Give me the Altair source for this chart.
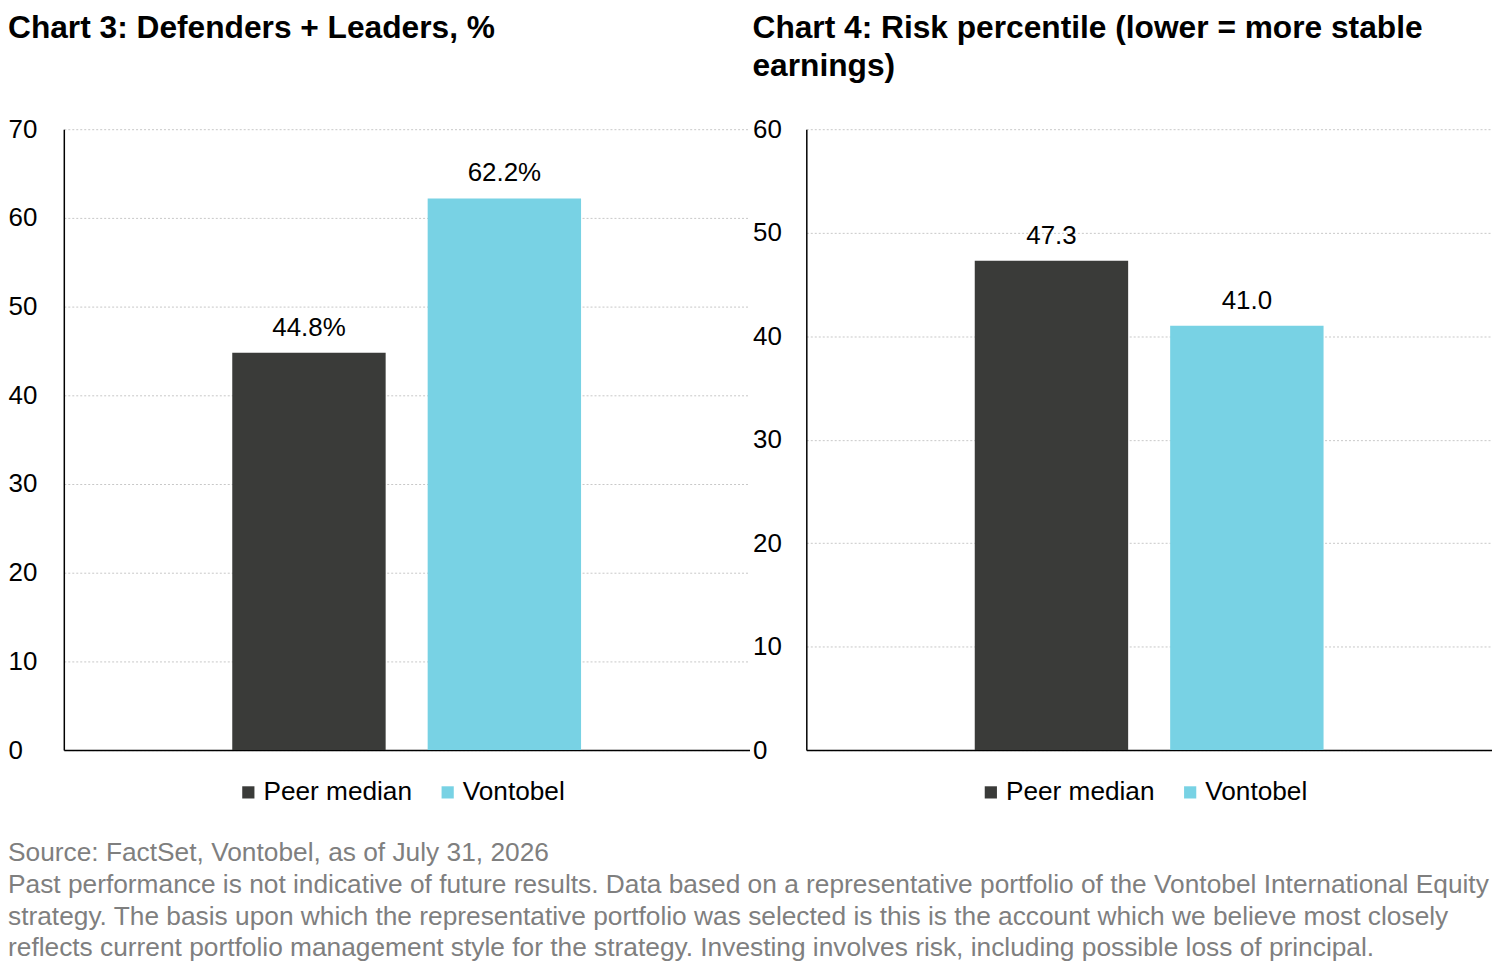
import altair as alt
import pandas as pd

series = ["Peer median", "Vontobel"]
chart3_values = [44.8, 62.2]
chart3_labels = ["44.8%", "62.2%"]
chart4_values = [47.3, 41.0]
chart4_labels = ["47.3", "41.0"]
colors = ["#3a3b39", "#78d2e4"]

chart3_title = ["Chart 3: Defenders + Leaders, %"]
chart4_title = ["Chart 4: Risk percentile (lower = more stable", "earnings)"]
footer = [
    "Source: FactSet, Vontobel, as of July 31, 2026",
    "Past performance is not indicative of future results. Data based on a representative portfolio of the Vontobel International Equity",
    "strategy. The basis upon which the representative portfolio was selected is this is the account which we believe most closely",
    "reflects current portfolio management style for the strategy. Investing involves risk, including possible loss of principal.",
]

FONT = "Liberation Sans"
W = 688
H = 623


def panel(values, labels, title, ymax, label_pad, title_offset):
    df = pd.DataFrame({"series": series, "value": values, "label": labels})
    x = alt.X(
        "series:N",
        sort=series,
        scale=alt.Scale(paddingInner=0.215, paddingOuter=0.862),
        axis=alt.Axis(labels=False, ticks=False, title=None, domainColor="black",
                      domainWidth=1.5, grid=False),
    )
    y = alt.Y(
        "value:Q",
        scale=alt.Scale(domain=[0, ymax], nice=False),
        axis=alt.Axis(
            values=list(range(0, ymax + 1, 10)), title=None, ticks=False,
            labelAlign="left", labelPadding=label_pad, labelFontSize=26,
            labelColor="black", labelFont=FONT, domainColor="black", domainWidth=1.5,
            gridColor="#c8c8c8", gridDash=[2, 2], gridWidth=1,
        ),
    )
    bars = alt.Chart(df).mark_bar().encode(
        x=x,
        y=y,
        color=alt.Color(
            "series:N",
            scale=alt.Scale(domain=series, range=colors),
            legend=alt.Legend(
                orient="none", legendX=172, legendY=H + 29, direction="horizontal",
                title=None, symbolType="square", symbolSize=150, labelFontSize=26.3,
                labelFont=FONT, labelColor="black", labelOffset=2, columnPadding=22,
                symbolStrokeWidth=0,
            ),
        ),
    )
    text = alt.Chart(df).mark_text(
        baseline="bottom", dy=-12, fontSize=26, font=FONT, color="black"
    ).encode(x=alt.X("series:N", sort=series), y="value:Q", text="label:N")
    return alt.layer(bars, text).properties(
        width=W,
        height=H,
        title=alt.TitleParams(
            text=title, anchor="start", frame="bounds", fontSize=31.8, font=FONT,
            fontWeight="bold", color="black", lineHeight=38, offset=title_offset,
        ),
    )


left = panel(chart3_values, chart3_labels, chart3_title, 70, 56, 72)
right = panel(chart4_values, chart4_labels, chart4_title, 60, 54, 34)

chart = (
    alt.hconcat(left, right, spacing=57, bounds="flush")
    .resolve_legend(color="independent")
    .properties(
        padding={"top": 3, "left": 0, "right": 0, "bottom": 0},
        title=alt.TitleParams(
            text=footer, orient="bottom", anchor="start", frame="bounds",
            fontSize=26.4, font=FONT, fontWeight="normal", color="#7f7f7f",
            lineHeight=32, offset=34,
        ),
    )
    .configure_view(stroke=None)
)

chart.save("out.html", embed_options={"renderer": "svg", "actions": False})
